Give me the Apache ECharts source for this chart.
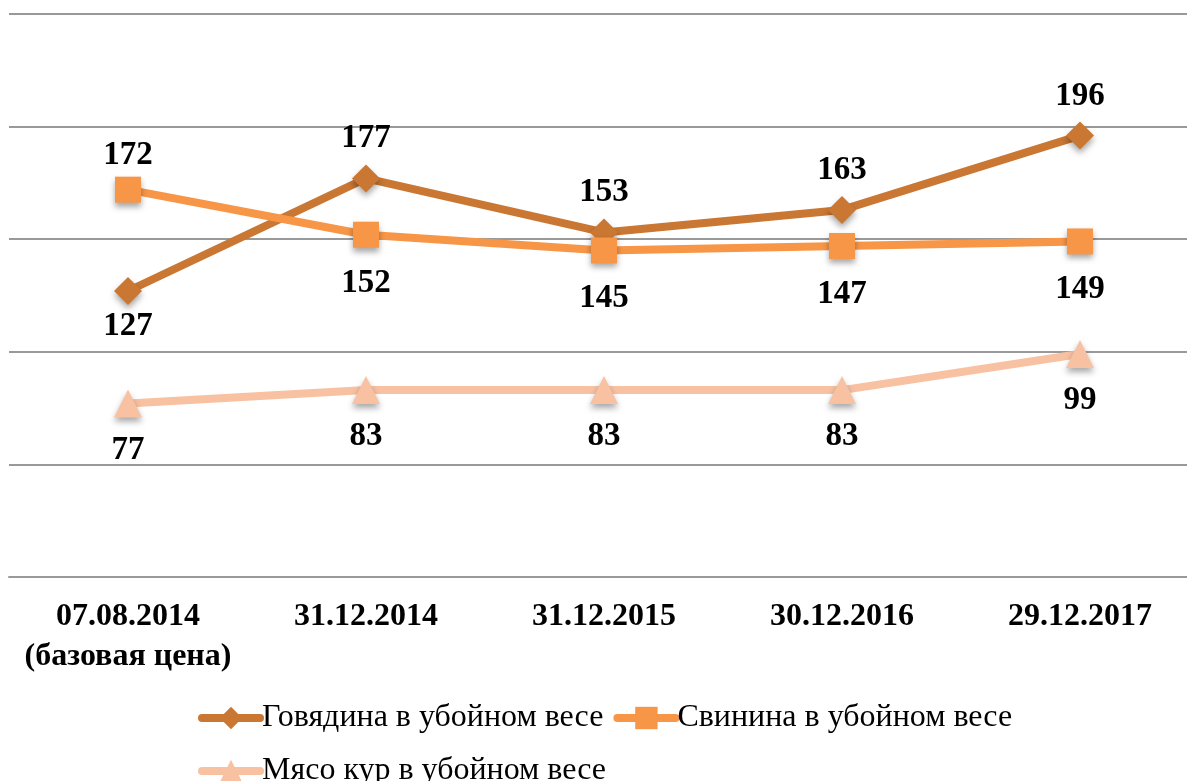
<!DOCTYPE html>
<html><head><meta charset="utf-8">
<script src="https://cdn.jsdelivr.net/npm/echarts@6/dist/echarts.min.js"></script>
<style>html,body{margin:0;padding:0;background:#fff}#c{width:1187px;height:781px}</style>
</head><body><div id="c"></div>
<script>
const categories = ['07.08.2014\n(базовая цена)', '31.12.2014', '31.12.2015', '30.12.2016', '29.12.2017'];
const beef = [127, 177, 153, 163, 196];
const pork = [172, 152, 145, 147, 149];
const chicken = [77, 83, 83, 83, 99];
const beefLabelPos = ['bottom', 'top', 'top', 'top', 'top'];
const porkLabelPos = ['top', 'bottom', 'bottom', 'bottom', 'bottom'];
const chickenLabelPos = ['bottom', 'bottom', 'bottom', 'bottom', 'bottom'];
const seriesNames = ['Говядина в убойном весе', 'Свинина в убойном весе', 'Мясо кур в убойном весе'];

const font = 'Liberation Serif, Times New Roman, serif';
const shadow = {shadowBlur: 6, shadowOffsetY: 4, shadowColor: 'rgba(0,0,0,0.35)'};
function labelDist(name, pos, i) {
  if (i === 0 && name !== seriesNames[2]) return 5;
  if (pos === 'top') return 9;
  return name === seriesNames[2] ? 16 : 19;
}
function mk(name, vals, pos, color, symbol, size) {
  return {
    name, type: 'line',
    data: vals.map((v, i) => ({value: v, label: {position: pos[i], distance: labelDist(name, pos[i], i)}})),
    symbol, symbolSize: size, showAllSymbol: true,
    lineStyle: {color, width: 8, cap: 'round', join: 'round'},
    itemStyle: Object.assign({color}, shadow),
    label: {show: true, fontFamily: font, fontWeight: 'bold', fontSize: 33, color: '#000'},
    z: 3
  };
}
const legendBase = {
  left: 198, padding: 0, itemWidth: 58, itemHeight: 28, itemGap: 10,
  lineStyle: {width: 8, cap: 'round'},
  itemStyle: {shadowBlur: 0, shadowOffsetY: 0},
  textStyle: {fontFamily: font, fontSize: 32, color: '#000', padding: [0, 0, 0, -3]}
};
const chart = echarts.init(document.getElementById('c'), null, {renderer: 'canvas'});
chart.setOption({
  animation: false,
  grid: {left: 9, width: 1190, top: 14, height: 563, containLabel: false, outerBoundsMode: 'none'},
  xAxis: {
    type: 'category', data: categories, boundaryGap: true,
    axisLine: {show: true, lineStyle: {color: '#999', width: 2}},
    axisTick: {show: false},
    axisLabel: {fontFamily: font, fontWeight: 'bold', fontSize: 32, color: '#000', margin: 20, lineHeight: 40, interval: 0}
  },
  yAxis: {
    type: 'value', min: 0, max: 250, interval: 50,
    axisLabel: {show: false}, axisLine: {show: false}, axisTick: {show: false},
    splitLine: {lineStyle: {color: '#999', width: 2}}
  },
  legend: [
    Object.assign({top: 702, data: [seriesNames[0], seriesNames[1]]}, legendBase),
    Object.assign({top: 755, data: [seriesNames[2]]}, legendBase)
  ],
  series: [
    mk(seriesNames[0], beef, beefLabelPos, '#C97733', 'diamond', 28),
    mk(seriesNames[1], pork, porkLabelPos, '#F79646', 'rect', 26),
    mk(seriesNames[2], chicken, chickenLabelPos, '#F8C1A2', 'triangle', 28)
  ]
});
</script></body></html>
